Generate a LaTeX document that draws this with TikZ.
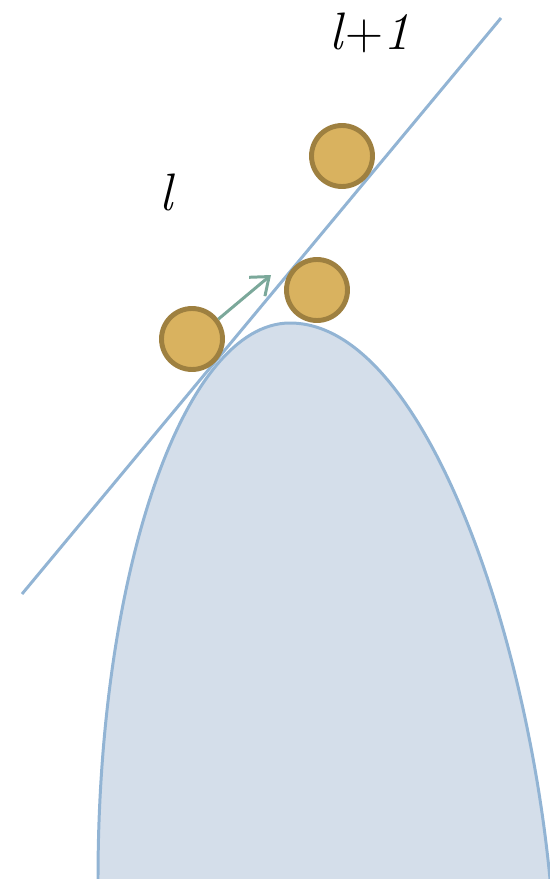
\documentclass[tikz,border=0pt]{standalone}
\usetikzlibrary{arrows.meta}

\begin{document}
\begin{tikzpicture}[x=0.02cm, y=-0.02cm]
    \definecolor{ballFill}{HTML}{D9B25F}
    \definecolor{ballBorder}{HTML}{9E8040}
    \definecolor{lineColour}{HTML}{92B4D4}
    \definecolor{hillColour}{HTML}{D4DEEA}
    \definecolor{arrowColour}{HTML}{7BA89A}

    \tikzset{
        ball/.style={circle, fill=ballFill, draw=ballBorder, line width=2.8pt,
                     minimum size=1.22cm, inner sep=0pt},
        label/.style={font=\fontsize{30}{36}\selectfont}
    }

    \useasboundingbox (0,0) rectangle (550,879);

    % Draw hill
    \fill[hillColour] (98,879) .. controls (98,572) and (184,323) .. (290,323)
        .. controls (420,323) and (525,620) .. (550,879) -- cycle;
    \draw[lineColour, line width=1.7pt] (98,879) .. controls (98,572) and (184,323) .. (290,323)
        .. controls (420,323) and (525,620) .. (550,879);

    % Draw line
    \coordinate (L1) at (22,594);
    \coordinate (L2) at (501,18);
    \draw[lineColour, line width=1.7pt] (L1) -- (L2);

    % Balls
    \node[ball] (ballA) at (192,339) {};
    \node[ball] (ballB) at (317,290) {};
    \node[ball] (ballC) at (342,156) {};

    % Arrow
    \coordinate (tip) at (271,275);
    \draw[arrowColour, line width=1.7pt, -{Straight Barb[length=9pt, width=14pt]}] (ballA.37) -- (tip);

    % Labels
    \node[label] (layerL) at (167,192) {\textit{l}};
    \node[label] (layerLp) at (370,33) {\textit{l}+\textit{1}};
\end{tikzpicture}
\end{document}
